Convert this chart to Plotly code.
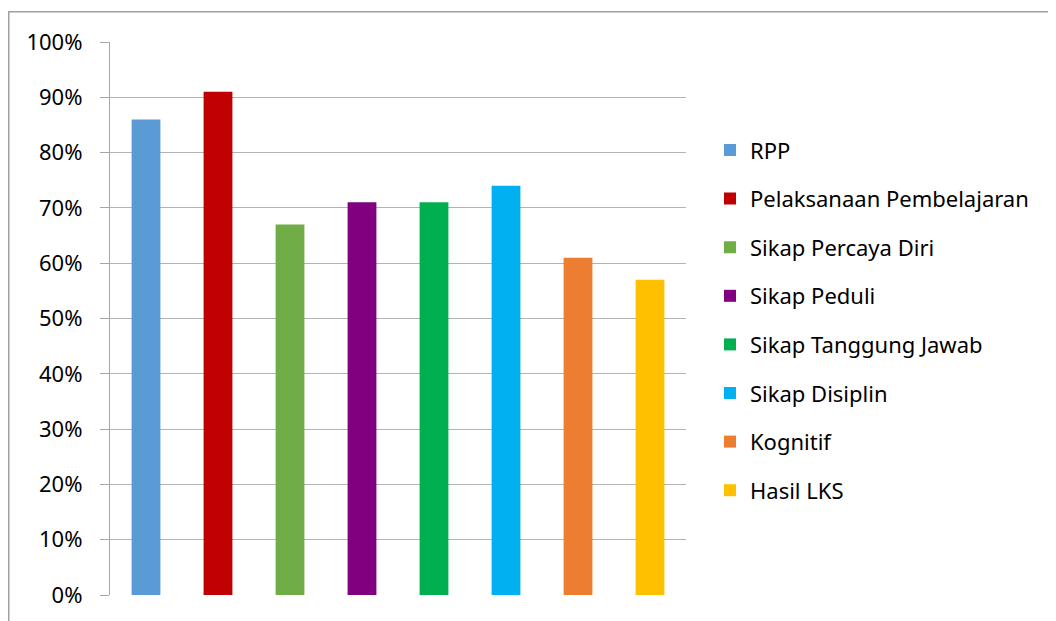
import plotly.graph_objects as go

categories = ["RPP", "Pelaksanaan Pembelajaran", "Sikap Percaya Diri", "Sikap Peduli",
              "Sikap Tanggung Jawab", "Sikap Disiplin", "Kognitif", "Hasil LKS"]
values = [0.86, 0.91, 0.67, 0.71, 0.71, 0.74, 0.61, 0.57]
colors = ["#5B9BD5", "#C00000", "#70AD47", "#800080", "#00B050", "#00B0F0", "#ED7D31", "#FFC000"]

FONT = "Noto Sans"
FS = 22

fig = go.Figure()
for i, (c, v, col) in enumerate(zip(categories, values, colors)):
    fig.add_trace(go.Bar(x=[c], y=[v], name=c, marker=dict(color=col, line=dict(width=0)),
                         width=0.4, legendgroup=c))

# page has an 8px body margin; figure coordinates = page - 8
OFF = 8
W, H = 1056 - OFF, 621 - OFF
L, R, T, B = 110 - OFF, 686 - OFF, 42 - OFF, 600 - OFF
fig.update_layout(
    width=W, height=H,
    margin=dict(l=L, r=W - R, t=T, b=H - B, pad=0),
    paper_bgcolor="white", plot_bgcolor="white",
    barmode="overlay",
    font=dict(family=FONT, size=FS, color="#000000"),
    showlegend=True,
    legend=dict(x=(710 - OFF - L) / (R - L), xanchor="left",
                y=(B - (130 - OFF)) / (B - T), yanchor="top",
                traceorder="grouped", tracegroupgap=17, font=dict(size=FS, family=FONT),
                itemwidth=30, bgcolor="rgba(0,0,0,0)"),
    xaxis=dict(showticklabels=False, showgrid=False, ticks="", showline=False, zeroline=False,
               categoryorder="array", categoryarray=categories),
    yaxis=dict(range=[0, 1], dtick=0.1, tickformat=".0%", showgrid=True, gridcolor="#B3B3B3",
               gridwidth=1.3, showline=True, linecolor="#A6A6A6", linewidth=1.3,
               ticks="outside", ticklen=9, tickcolor="#A6A6A6", tickwidth=1.3,
               ticklabelstandoff=13, zeroline=False, tickfont=dict(size=FS, family=FONT)),
    shapes=[dict(type="rect", xref="paper", yref="paper",
                 x0=(0.75 - L) / (R - L), x1=(1070 - L) / (R - L),
                 y0=(B - 640) / (B - T), y1=(B - 3.5) / (B - T),
                 line=dict(color="#A0A0A0", width=1.5), fillcolor="rgba(0,0,0,0)", layer="below")],
)
fig.write_html("out.html")
